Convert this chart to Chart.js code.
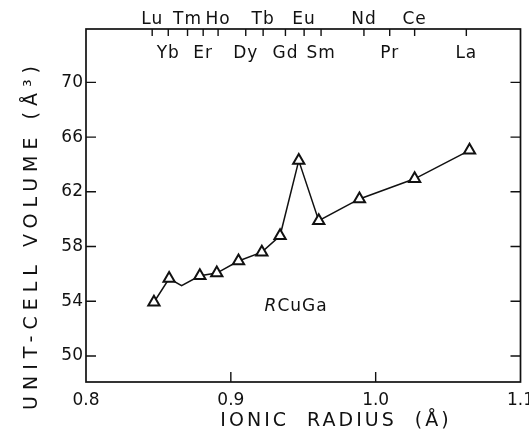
<!DOCTYPE html>
<html>
<head>
<meta charset="utf-8">
<script src="https://cdn.jsdelivr.net/npm/chart.js@4.4.1/dist/chart.umd.min.js"></script>
<style>
  html, body { margin: 0; padding: 0; background: #fff; }
  canvas { display: block; }
</style>
</head>
<body>
<canvas id="chart" width="529" height="436"></canvas>
<script>
// measured points (Tm only bends the line, no symbol)
const elements = ["Lu", "Yb", "Tm", "Er", "Ho", "Dy", "Tb", "Gd", "Eu", "Sm", "Nd", "Ce", "La"];
const radius = [0.8469, 0.8574, 0.8660, 0.8786, 0.8903, 0.9053, 0.9214, 0.9340, 0.9469, 0.9607, 0.9888, 1.0269, 1.0648];
const volume = [53.93, 55.66, 55.14, 55.86, 56.06, 56.94, 57.59, 58.79, 64.28, 59.89, 61.48, 62.95, 65.03];
const hasSymbol = [1, 1, 0, 1, 1, 1, 1, 1, 1, 1, 1, 1, 1];

// rare-earth scale along the top
const topLabels = ["Lu", "Yb", "Tm", "Er", "Ho", "Dy", "Tb", "Gd", "Eu", "Sm", "Nd", "Pr", "Ce", "La"];
const topRadii = [0.8457, 0.8568, 0.8701, 0.8809, 0.8912, 0.9103, 0.9223, 0.9377, 0.9506, 0.9623, 0.9919, 1.0097, 1.0269, 1.0626];

const xTicks = [0.8, 0.9, 1.0, 1.1];
const yTicks = [50, 54, 58, 62, 66, 70];

const FONT = "'DejaVu Sans', sans-serif";

function spacedText(ctx, text, x, y, spacing) {
  ctx.letterSpacing = spacing + "px";
  ctx.fillText(text, x, y);
  ctx.letterSpacing = "0px";
}

const framePlugin = {
  id: "frame",
  beforeDatasetsDraw(chart) {
    const { ctx, chartArea: a } = chart;
    const xs = chart.scales.x, ys = chart.scales.y;
    ctx.save();
    ctx.strokeStyle = "#111";
    ctx.lineWidth = 1.7;
    ctx.strokeRect(a.left, a.top, a.right - a.left, a.bottom - a.top);

    ctx.lineWidth = 1.4;
    ctx.beginPath();
    // inward ticks: left + right
    yTicks.forEach(v => {
      const py = ys.getPixelForValue(v);
      ctx.moveTo(a.left, py); ctx.lineTo(a.left + 10, py);
      ctx.moveTo(a.right, py); ctx.lineTo(a.right - 10, py);
    });
    // bottom ticks (interior only)
    xTicks.slice(1, -1).forEach(v => {
      const px = xs.getPixelForValue(v);
      ctx.moveTo(px, a.bottom); ctx.lineTo(px, a.bottom - 10);
    });
    // top element ticks
    topRadii.forEach(v => {
      const px = xs.getPixelForValue(v);
      ctx.moveTo(px, a.top); ctx.lineTo(px, a.top + 7);
    });
    ctx.stroke();

    // element names, two staggered rows
    ctx.fillStyle = "#111";
    ctx.font = "17px " + FONT;
    ctx.textAlign = "center";
    ctx.textBaseline = "middle";
    topLabels.forEach((lab, i) => {
      const px = xs.getPixelForValue(topRadii[i]);
      const py = i % 2 === 0 ? a.top - 9 : a.top + 25;
      spacedText(ctx, lab, px, py, 1);
    });

    // compound label
    const lx = xs.getPixelForValue(0.9233), ly = ys.getPixelForValue(53.6);
    ctx.textAlign = "left";
    ctx.font = "italic 17px " + FONT;
    ctx.fillText("R", lx, ly);
    const rw = ctx.measureText("R").width;
    ctx.font = "17px " + FONT;
    spacedText(ctx, "CuGa", lx + rw + 1, ly, 1);

    // axis titles
    ctx.font = "19px " + FONT;
    ctx.textAlign = "center";
    spacedText(ctx, "IONIC  RADIUS  (Å)", 336, 421, 3);
    ctx.translate(32, 235);
    ctx.rotate(-Math.PI / 2);
    spacedText(ctx, "UNIT-CELL VOLUME (Å³)", 0, 0, 6);
    ctx.restore();
  }
};

new Chart(document.getElementById("chart"), {
  type: "line",
  data: {
    datasets: [{
      data: radius.map((r, i) => ({ x: r, y: volume[i] })),
      borderColor: "#111",
      borderWidth: 1.5,
      tension: 0,
      pointStyle: "triangle",
      pointRadius: hasSymbol.map(s => s ? 6.5 : 0),
      pointBackgroundColor: "#fff",
      pointBorderColor: "#111",
      pointBorderWidth: 2,
      clip: false
    }]
  },
  options: {
    responsive: false,
    animation: false,
    layout: { padding: { top: 29, right: 8, left: 0, bottom: 0 } },
    plugins: { legend: { display: false }, tooltip: { enabled: false } },
    scales: {
      x: {
        type: "linear",
        min: 0.8,
        max: 1.1,
        grid: { display: false, drawTicks: false },
        border: { display: false },
        afterBuildTicks: s => { s.ticks = xTicks.map(v => ({ value: v })); },
        afterFit: s => { s.height = 54; s.paddingLeft = 0; s.paddingRight = 0; },
        ticks: {
          padding: 8,
          color: "#111",
          font: { family: FONT, size: 17 },
          callback: v => v.toFixed(1)
        }
      },
      y: {
        min: 48.1,
        max: 73.9,
        grid: { display: false, drawTicks: false },
        border: { display: false },
        afterBuildTicks: s => { s.ticks = yTicks.map(v => ({ value: v })); },
        afterFit: s => { s.width = 86; s.paddingTop = 0; s.paddingBottom = 0; },
        ticks: {
          padding: 3,
          color: "#111",
          font: { family: FONT, size: 17 }
        }
      }
    }
  },
  plugins: [framePlugin]
});
</script>
</body>
</html>
